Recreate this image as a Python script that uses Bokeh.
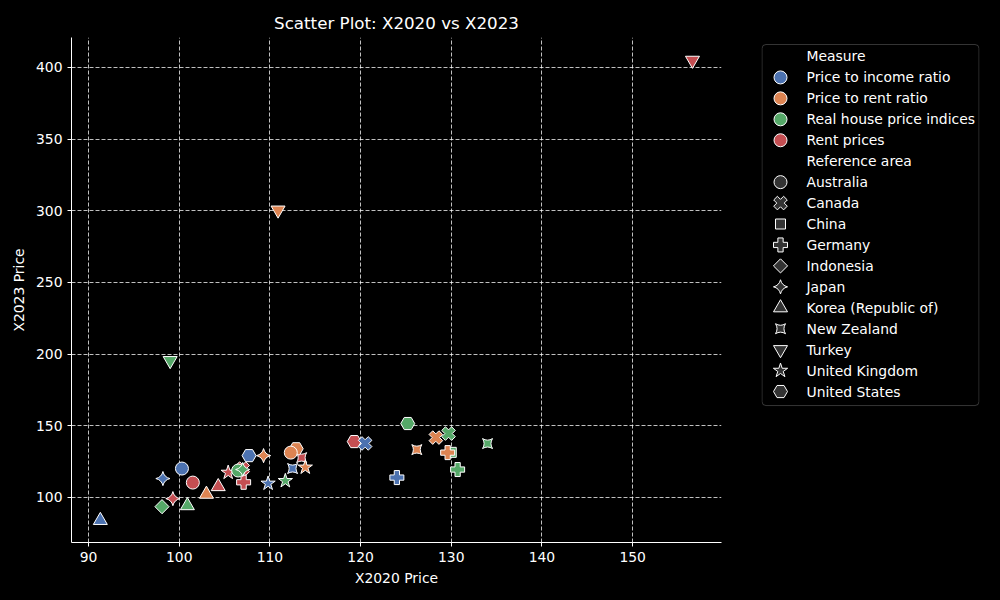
from bokeh.plotting import figure
from bokeh.models import ColumnDataSource, Range1d, FixedTicker, BoxAnnotation
from bokeh.layouts import row
from bokeh.embed import file_html
from bokeh.resources import INLINE
from bokeh.core.properties import value, field

# ---------------- data ----------------
measures = ["Price to income ratio", "Price to rent ratio",
            "Real house price indices", "Rent prices"]
areas = ["Australia", "Canada", "China", "Germany", "Indonesia", "Japan",
         "Korea (Republic of)", "New Zealand", "Turkey", "United Kingdom",
         "United States"]

# Rent prices
rent_area = ["Japan", "Australia", "Korea (Republic of)", "United Kingdom", "Canada",
             "Germany", "New Zealand", "United States", "Turkey"]
rent_x2020 = [99.3, 101.5, 104.3, 105.4, 107.0, 107.1, 113.5, 119.3, 156.6]
rent_x2023 = [99.2, 110.4, 107.6, 117.4, 120.2, 110.6, 127.8, 139.0, 405.0]

# Real house price indices
real_area = ["Indonesia", "Turkey", "Korea (Republic of)", "Australia", "Japan",
             "United Kingdom", "United States", "Canada", "China", "Germany", "New Zealand"]
real_x2020 = [98.1, 99.0, 100.9, 106.5, 107.0, 111.7, 125.2, 129.7, 130.0, 130.7, 134.0]
real_x2023 = [93.6, 195.5, 94.3, 118.8, 119.5, 111.6, 151.6, 144.6, 131.5, 119.5, 137.6]

# Price to income ratio
pir_area = ["Korea (Republic of)", "Japan", "Australia", "United States",
            "United Kingdom", "New Zealand", "Canada", "Germany"]
pir_x2020 = [91.3, 98.2, 100.3, 107.7, 109.8, 112.5, 120.5, 124.0]
pir_x2023 = [84.0, 113.2, 120.2, 129.2, 109.8, 120.2, 137.7, 113.9]

# Price to rent ratio
prr_area = ["Korea (Republic of)", "Japan", "Turkey", "United States", "Australia",
            "United Kingdom", "New Zealand", "Canada", "Germany"]
prr_x2020 = [103.0, 109.3, 110.9, 112.9, 112.3, 113.9, 126.2, 128.3, 129.6]
prr_x2023 = [102.3, 129.2, 300.5, 134.0, 131.3, 121.0, 133.4, 141.8, 131.3]

x_ticks = [90, 100, 110, 120, 130, 140, 150]
y_ticks = [100, 150, 200, 250, 300, 350, 400]

# ---------------- styles ----------------
FONT = "DejaVu Sans"
MEASURE_COLOR = {
    "Price to income ratio": "#4c72b0",
    "Price to rent ratio": "#dd8452",
    "Real house price indices": "#55a868",
    "Rent prices": "#c44e52",
}
Q = 0.7853981634
AREA_STYLE = {  # marker, size, angle
    "Australia": ("circle", 13, 0.0),
    "Canada": ("plus", 14, Q),
    "China": ("square", 10, 0.0),
    "Germany": ("plus", 14, 0.0),
    "Indonesia": ("square", 10, Q),
    "Japan": ("square_pin", 10, Q),
    "Korea (Republic of)": ("triangle", 14, 0.0),
    "New Zealand": ("square_pin", 10, 0.0),
    "Turkey": ("inverted_triangle", 14, 0.0),
    "United Kingdom": ("star", 15, 0.0),
    "United States": ("hex", 14, 0.0),
}

groups = [("Rent prices", rent_area, rent_x2020, rent_x2023),
          ("Real house price indices", real_area, real_x2020, real_x2023),
          ("Price to income ratio", pir_area, pir_x2020, pir_x2023),
          ("Price to rent ratio", prr_area, prr_x2020, prr_x2023)]

cols = dict(x=[], y=[], measure=[], area=[], color=[], marker=[], size=[], angle=[])
for m, ar, xs, ys in groups:
    for a, xv, yv in zip(ar, xs, ys):
        mk, sz, ang = AREA_STYLE[a]
        cols["x"].append(xv)
        cols["y"].append(yv)
        cols["measure"].append(m)
        cols["area"].append(a)
        cols["color"].append(MEASURE_COLOR[m])
        cols["marker"].append(mk)
        cols["size"].append(sz)
        cols["angle"].append(ang)
src = ColumnDataSource(cols)

H = 590
BT, BB = 37, 48

# ---------------- main plot ----------------
p = figure(width=741, height=H, output_backend="svg", toolbar_location=None,
           x_range=Range1d(88.12, 159.8), y_range=Range1d(68.6, 420.9),
           min_border_left=71, min_border_right=20, min_border_top=BT,
           min_border_bottom=BB, title="Scatter Plot: X2020 vs X2023")
p.background_fill_color = "black"
p.border_fill_color = "black"
p.outline_line_color = None

p.title.align = "center"
p.title.text_color = "white"
p.title.text_font = FONT
p.title.text_font_size = "16.7px"
p.title.text_font_style = "normal"

p.xaxis.axis_label = "X2020 Price"
p.yaxis.axis_label = "X2023 Price"
p.xaxis.ticker = FixedTicker(ticks=x_ticks)
p.yaxis.ticker = FixedTicker(ticks=y_ticks)
for ax in (p.xaxis, p.yaxis):
    ax.axis_line_color = "white"
    ax.major_tick_line_color = "white"
    ax.minor_tick_line_color = None
    ax.major_tick_out = 4
    ax.major_tick_in = 0
    ax.major_label_text_color = "white"
    ax.major_label_text_font = FONT
    ax.major_label_text_font_size = "13.9px"
    ax.axis_label_text_color = "white"
    ax.axis_label_text_font = FONT
    ax.axis_label_text_font_size = "13.9px"
    ax.axis_label_text_font_style = "normal"
p.yaxis.axis_label_standoff = 6

p.grid.grid_line_color = "white"
p.grid.grid_line_dash = "4 2"
p.grid.grid_line_width = 0.8
p.grid.grid_line_alpha = 0.95

p.scatter(x="x", y="y", source=src, marker=field("marker"), size="size",
          angle="angle", fill_color="color", line_color="white", line_width=1)

# ---------------- legend panel ----------------
rows = ["Measure"] + measures + ["Reference area"] + areas
ROW_PX = 20.94
FRAME_H = H - BT - BB
TOP_OFF = 0.907  # rows between frame top and first row centre
row_pos = list(range(len(rows)))

lg = figure(width=243, height=H, output_backend="svg", toolbar_location=None,
            x_range=Range1d(0, 218),
            y_range=Range1d(FRAME_H / ROW_PX - TOP_OFF, -TOP_OFF),
            x_axis_location=None, y_axis_location=None,
            min_border_left=20, min_border_right=5, min_border_top=BT,
            min_border_bottom=BB)
lg.background_fill_color = "black"
lg.border_fill_color = "black"
lg.outline_line_color = None
lg.grid.visible = False

lg.add_layout(BoxAnnotation(left=0.5, right=217.5, top=-0.573,
                            bottom=len(rows) - 1 + 0.67,
                            fill_color=None, line_color="#b0b0b0", line_width=1,
                            border_radius=4))

lg.text(x=45, y=row_pos, text=rows, text_color="white", text_font=value(FONT),
        text_font_size="13.9px", text_baseline="middle", text_align="left")
lg.scatter(x=19, y=[rows.index(m) for m in measures], marker="circle", size=13,
           fill_color=[MEASURE_COLOR[m] for m in measures],
           line_color="white", line_width=1)
lg.scatter(x=19, y=[rows.index(a) for a in areas],
           marker=[AREA_STYLE[a][0] for a in areas],
           size=[AREA_STYLE[a][1] for a in areas],
           angle=[AREA_STYLE[a][2] for a in areas],
           fill_color="#333333", line_color="white", line_width=1)

layout = row(p, lg)
html = file_html(layout, INLINE)
html = html.replace("<head>", "<head><style>html,body{background:#000;}</style>", 1)
open("out.html", "w").write(html)
